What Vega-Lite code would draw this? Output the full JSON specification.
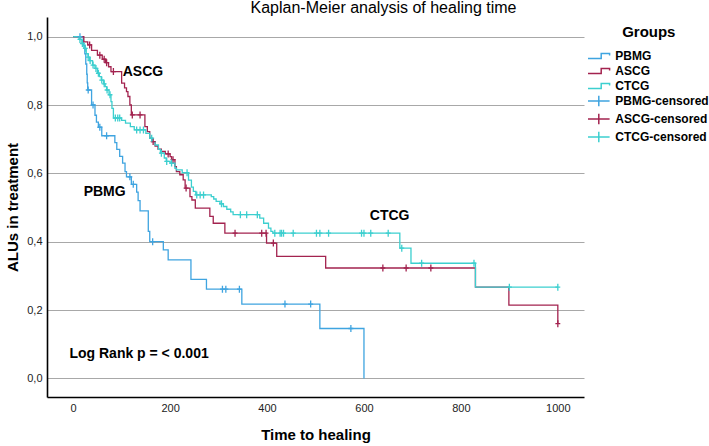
{
  "$schema": "https://vega.github.io/schema/vega-lite/v6.json",
  "width": 537,
  "height": 380,
  "autosize": {"type": "none"},
  "padding": {"left": 47, "top": 17, "right": 125, "bottom": 49},
  "background": "white",
  "title": {
    "text": "Kaplan-Meier analysis of healing time",
    "anchor": "middle",
    "dx": 68,
    "offset": 1,
    "fontSize": 16,
    "fontWeight": "normal",
    "font": "Liberation Sans",
    "color": "#000"
  },
  "datasets": {
    "curves": [
      {"label": "PBMG", "t": 0, "s": 1}, {"label": "PBMG", "t": 21, "s": 0.975}, {"label": "PBMG", "t": 24, "s": 0.95},
      {"label": "PBMG", "t": 26, "s": 0.92}, {"label": "PBMG", "t": 28, "s": 0.89}, {"label": "PBMG", "t": 29, "s": 0.865},
      {"label": "PBMG", "t": 30, "s": 0.844}, {"label": "PBMG", "t": 38, "s": 0.8}, {"label": "PBMG", "t": 45, "s": 0.77},
      {"label": "PBMG", "t": 48, "s": 0.75}, {"label": "PBMG", "t": 52, "s": 0.735}, {"label": "PBMG", "t": 59, "s": 0.71},
      {"label": "PBMG", "t": 86, "s": 0.69}, {"label": "PBMG", "t": 90, "s": 0.67}, {"label": "PBMG", "t": 96, "s": 0.65},
      {"label": "PBMG", "t": 102, "s": 0.63}, {"label": "PBMG", "t": 107, "s": 0.605}, {"label": "PBMG", "t": 110, "s": 0.59},
      {"label": "PBMG", "t": 120, "s": 0.568}, {"label": "PBMG", "t": 131, "s": 0.545}, {"label": "PBMG", "t": 134, "s": 0.52},
      {"label": "PBMG", "t": 138, "s": 0.49}, {"label": "PBMG", "t": 155, "s": 0.43}, {"label": "PBMG", "t": 158, "s": 0.4},
      {"label": "PBMG", "t": 186, "s": 0.376}, {"label": "PBMG", "t": 196, "s": 0.347}, {"label": "PBMG", "t": 243, "s": 0.29},
      {"label": "PBMG", "t": 275, "s": 0.261}, {"label": "PBMG", "t": 348, "s": 0.2175}, {"label": "PBMG", "t": 509, "s": 0.146},
      {"label": "PBMG", "t": 600, "s": 0},

      {"label": "ASCG", "t": 0, "s": 1}, {"label": "ASCG", "t": 22, "s": 0.985}, {"label": "ASCG", "t": 30, "s": 0.976},
      {"label": "ASCG", "t": 38, "s": 0.96}, {"label": "ASCG", "t": 50, "s": 0.946}, {"label": "ASCG", "t": 60, "s": 0.934},
      {"label": "ASCG", "t": 67, "s": 0.924}, {"label": "ASCG", "t": 73, "s": 0.912}, {"label": "ASCG", "t": 78, "s": 0.898},
      {"label": "ASCG", "t": 100, "s": 0.864}, {"label": "ASCG", "t": 106, "s": 0.85}, {"label": "ASCG", "t": 110, "s": 0.839},
      {"label": "ASCG", "t": 113, "s": 0.825}, {"label": "ASCG", "t": 117, "s": 0.8}, {"label": "ASCG", "t": 120, "s": 0.771},
      {"label": "ASCG", "t": 148, "s": 0.737}, {"label": "ASCG", "t": 153, "s": 0.722}, {"label": "ASCG", "t": 158, "s": 0.703},
      {"label": "ASCG", "t": 162, "s": 0.693}, {"label": "ASCG", "t": 169, "s": 0.68}, {"label": "ASCG", "t": 175, "s": 0.671},
      {"label": "ASCG", "t": 182, "s": 0.664}, {"label": "ASCG", "t": 190, "s": 0.657}, {"label": "ASCG", "t": 200, "s": 0.649},
      {"label": "ASCG", "t": 203, "s": 0.64}, {"label": "ASCG", "t": 210, "s": 0.62}, {"label": "ASCG", "t": 213, "s": 0.605},
      {"label": "ASCG", "t": 220, "s": 0.596}, {"label": "ASCG", "t": 227, "s": 0.581}, {"label": "ASCG", "t": 231, "s": 0.557},
      {"label": "ASCG", "t": 241, "s": 0.532}, {"label": "ASCG", "t": 245, "s": 0.522}, {"label": "ASCG", "t": 252, "s": 0.498},
      {"label": "ASCG", "t": 282, "s": 0.474}, {"label": "ASCG", "t": 289, "s": 0.454}, {"label": "ASCG", "t": 313, "s": 0.425},
      {"label": "ASCG", "t": 399, "s": 0.396}, {"label": "ASCG", "t": 420, "s": 0.357}, {"label": "ASCG", "t": 521, "s": 0.323},
      {"label": "ASCG", "t": 830, "s": 0.267}, {"label": "ASCG", "t": 899, "s": 0.2146}, {"label": "ASCG", "t": 1000, "s": 0.16},

      {"label": "CTCG", "t": 0, "s": 1}, {"label": "CTCG", "t": 12, "s": 0.992}, {"label": "CTCG", "t": 18, "s": 0.98},
      {"label": "CTCG", "t": 22, "s": 0.966}, {"label": "CTCG", "t": 27, "s": 0.95}, {"label": "CTCG", "t": 31, "s": 0.94},
      {"label": "CTCG", "t": 34, "s": 0.93}, {"label": "CTCG", "t": 40, "s": 0.917}, {"label": "CTCG", "t": 45, "s": 0.907},
      {"label": "CTCG", "t": 50, "s": 0.893}, {"label": "CTCG", "t": 54, "s": 0.883}, {"label": "CTCG", "t": 58, "s": 0.873},
      {"label": "CTCG", "t": 63, "s": 0.862}, {"label": "CTCG", "t": 66, "s": 0.854}, {"label": "CTCG", "t": 69, "s": 0.844},
      {"label": "CTCG", "t": 74, "s": 0.83}, {"label": "CTCG", "t": 78, "s": 0.81}, {"label": "CTCG", "t": 80, "s": 0.79},
      {"label": "CTCG", "t": 83, "s": 0.762}, {"label": "CTCG", "t": 100, "s": 0.755}, {"label": "CTCG", "t": 108, "s": 0.747},
      {"label": "CTCG", "t": 118, "s": 0.737}, {"label": "CTCG", "t": 126, "s": 0.727}, {"label": "CTCG", "t": 150, "s": 0.717},
      {"label": "CTCG", "t": 158, "s": 0.703}, {"label": "CTCG", "t": 164, "s": 0.693}, {"label": "CTCG", "t": 169, "s": 0.683},
      {"label": "CTCG", "t": 176, "s": 0.67}, {"label": "CTCG", "t": 180, "s": 0.659}, {"label": "CTCG", "t": 188, "s": 0.645},
      {"label": "CTCG", "t": 192, "s": 0.635}, {"label": "CTCG", "t": 200, "s": 0.63}, {"label": "CTCG", "t": 210, "s": 0.615},
      {"label": "CTCG", "t": 213, "s": 0.61}, {"label": "CTCG", "t": 225, "s": 0.602}, {"label": "CTCG", "t": 238, "s": 0.58},
      {"label": "CTCG", "t": 244, "s": 0.56}, {"label": "CTCG", "t": 248, "s": 0.547}, {"label": "CTCG", "t": 253, "s": 0.537},
      {"label": "CTCG", "t": 285, "s": 0.532}, {"label": "CTCG", "t": 290, "s": 0.525}, {"label": "CTCG", "t": 295, "s": 0.518},
      {"label": "CTCG", "t": 303, "s": 0.511}, {"label": "CTCG", "t": 310, "s": 0.503}, {"label": "CTCG", "t": 317, "s": 0.495},
      {"label": "CTCG", "t": 325, "s": 0.487}, {"label": "CTCG", "t": 330, "s": 0.479}, {"label": "CTCG", "t": 385, "s": 0.469},
      {"label": "CTCG", "t": 393, "s": 0.454}, {"label": "CTCG", "t": 403, "s": 0.44}, {"label": "CTCG", "t": 408, "s": 0.43},
      {"label": "CTCG", "t": 412, "s": 0.425}, {"label": "CTCG", "t": 674, "s": 0.381}, {"label": "CTCG", "t": 697, "s": 0.337},
      {"label": "CTCG", "t": 830, "s": 0.267}, {"label": "CTCG", "t": 1000, "s": 0.267}
    ],
    "censored": [
      {"label": "PBMG-censored", "t": 14, "s": 1}, {"label": "PBMG-censored", "t": 31, "s": 0.844},
      {"label": "PBMG-censored", "t": 41, "s": 0.8}, {"label": "PBMG-censored", "t": 55, "s": 0.735},
      {"label": "PBMG-censored", "t": 69, "s": 0.71}, {"label": "PBMG-censored", "t": 117, "s": 0.59},
      {"label": "PBMG-censored", "t": 124, "s": 0.568}, {"label": "PBMG-censored", "t": 164, "s": 0.4},
      {"label": "PBMG-censored", "t": 308, "s": 0.261}, {"label": "PBMG-censored", "t": 315, "s": 0.261},
      {"label": "PBMG-censored", "t": 343, "s": 0.261}, {"label": "PBMG-censored", "t": 437, "s": 0.2175},
      {"label": "PBMG-censored", "t": 490, "s": 0.2175}, {"label": "PBMG-censored", "t": 573, "s": 0.146},

      {"label": "ASCG-censored", "t": 34, "s": 0.976}, {"label": "ASCG-censored", "t": 55, "s": 0.946},
      {"label": "ASCG-censored", "t": 64, "s": 0.934}, {"label": "ASCG-censored", "t": 69, "s": 0.924},
      {"label": "ASCG-censored", "t": 83, "s": 0.898}, {"label": "ASCG-censored", "t": 122, "s": 0.771},
      {"label": "ASCG-censored", "t": 138, "s": 0.771}, {"label": "ASCG-censored", "t": 165, "s": 0.693},
      {"label": "ASCG-censored", "t": 196, "s": 0.657}, {"label": "ASCG-censored", "t": 206, "s": 0.64},
      {"label": "ASCG-censored", "t": 233, "s": 0.557}, {"label": "ASCG-censored", "t": 334, "s": 0.425},
      {"label": "ASCG-censored", "t": 389, "s": 0.425}, {"label": "ASCG-censored", "t": 398, "s": 0.425},
      {"label": "ASCG-censored", "t": 413, "s": 0.396}, {"label": "ASCG-censored", "t": 639, "s": 0.323},
      {"label": "ASCG-censored", "t": 687, "s": 0.323}, {"label": "ASCG-censored", "t": 738, "s": 0.323},
      {"label": "ASCG-censored", "t": 1000, "s": 0.16},

      {"label": "CTCG-censored", "t": 14, "s": 0.992}, {"label": "CTCG-censored", "t": 19, "s": 0.98},
      {"label": "CTCG-censored", "t": 25, "s": 0.966}, {"label": "CTCG-censored", "t": 31, "s": 0.94},
      {"label": "CTCG-censored", "t": 35, "s": 0.93}, {"label": "CTCG-censored", "t": 41, "s": 0.917},
      {"label": "CTCG-censored", "t": 47, "s": 0.907}, {"label": "CTCG-censored", "t": 52, "s": 0.893},
      {"label": "CTCG-censored", "t": 59, "s": 0.873}, {"label": "CTCG-censored", "t": 64, "s": 0.862},
      {"label": "CTCG-censored", "t": 70, "s": 0.844}, {"label": "CTCG-censored", "t": 76, "s": 0.83},
      {"label": "CTCG-censored", "t": 87, "s": 0.762}, {"label": "CTCG-censored", "t": 92, "s": 0.762},
      {"label": "CTCG-censored", "t": 96, "s": 0.762}, {"label": "CTCG-censored", "t": 131, "s": 0.727},
      {"label": "CTCG-censored", "t": 138, "s": 0.727}, {"label": "CTCG-censored", "t": 145, "s": 0.727},
      {"label": "CTCG-censored", "t": 162, "s": 0.703}, {"label": "CTCG-censored", "t": 182, "s": 0.659},
      {"label": "CTCG-censored", "t": 193, "s": 0.635}, {"label": "CTCG-censored", "t": 203, "s": 0.63},
      {"label": "CTCG-censored", "t": 235, "s": 0.602}, {"label": "CTCG-censored", "t": 255, "s": 0.537},
      {"label": "CTCG-censored", "t": 262, "s": 0.537}, {"label": "CTCG-censored", "t": 269, "s": 0.537},
      {"label": "CTCG-censored", "t": 306, "s": 0.511}, {"label": "CTCG-censored", "t": 345, "s": 0.479},
      {"label": "CTCG-censored", "t": 358, "s": 0.479}, {"label": "CTCG-censored", "t": 380, "s": 0.479},
      {"label": "CTCG-censored", "t": 416, "s": 0.425}, {"label": "CTCG-censored", "t": 427, "s": 0.425},
      {"label": "CTCG-censored", "t": 430, "s": 0.425}, {"label": "CTCG-censored", "t": 434, "s": 0.425},
      {"label": "CTCG-censored", "t": 454, "s": 0.425}, {"label": "CTCG-censored", "t": 502, "s": 0.425},
      {"label": "CTCG-censored", "t": 509, "s": 0.425}, {"label": "CTCG-censored", "t": 527, "s": 0.425},
      {"label": "CTCG-censored", "t": 595, "s": 0.425}, {"label": "CTCG-censored", "t": 600, "s": 0.425},
      {"label": "CTCG-censored", "t": 614, "s": 0.425}, {"label": "CTCG-censored", "t": 650, "s": 0.425},
      {"label": "CTCG-censored", "t": 678, "s": 0.381}, {"label": "CTCG-censored", "t": 719, "s": 0.337},
      {"label": "CTCG-censored", "t": 827, "s": 0.337}, {"label": "CTCG-censored", "t": 900, "s": 0.267},
      {"label": "CTCG-censored", "t": 1000, "s": 0.267}
    ],
    "notes": [
      {"t": 144, "s": 0.897, "text": "ASCG"},
      {"t": 65, "s": 0.544, "text": "PBMG"},
      {"t": 653, "s": 0.476, "text": "CTCG"},
      {"t": 136, "s": 0.0722, "text": "Log Rank p = < 0.001"}
    ],
    "keys": [
      {"label": "PBMG"}, {"label": "ASCG"}, {"label": "CTCG"},
      {"label": "PBMG-censored"}, {"label": "ASCG-censored"}, {"label": "CTCG-censored"}
    ]
  },
  "encoding": {
    "x": {
      "field": "t",
      "type": "quantitative",
      "scale": {"domain": [-54, 1054], "nice": false, "zero": false},
      "axis": {
        "title": "Time to healing",
        "values": [0, 200, 400, 600, 800, 1000],
        "format": "d",
        "grid": false,
        "ticks": false,
        "tickSize": 0,
        "labelPadding": 5,
        "titlePadding": 14
      }
    },
    "y": {
      "field": "s",
      "type": "quantitative",
      "scale": {"domain": [-0.0545, 1.0576], "nice": false, "zero": false},
      "axis": {
        "title": "ALUs in treatment",
        "values": [0, 0.2, 0.4, 0.6, 0.8, 1],
        "format": ".1f",
        "labelExpr": "replace(datum.label, '.', ',')",
        "grid": true,
        "ticks": false,
        "tickSize": 0,
        "labelPadding": 5,
        "titlePadding": 6
      }
    }
  },
  "resolve": {
    "scale": {"color": "independent", "shape": "independent"},
    "legend": {"color": "independent", "shape": "independent"}
  },
  "layer": [
    {
      "data": {"name": "curves"},
      "mark": {"type": "line", "interpolate": "step-after", "strokeWidth": 1.3},
      "encoding": {
        "color": {
          "field": "label",
          "type": "nominal",
          "scale": {
            "domain": ["PBMG", "ASCG", "CTCG"],
            "range": ["#3fa4e0", "#a3234f", "#3ccfcf"]
          },
          "legend": null
        }
      }
    },
    {
      "data": {"name": "censored"},
      "mark": {
        "type": "point",
        "shape": "M-0.7,0H0.7M0,-1V1",
        "filled": false,
        "size": 49,
        "strokeWidth": 1.3,
        "opacity": 1
      },
      "encoding": {
        "color": {
          "field": "label",
          "type": "nominal",
          "scale": {
            "domain": ["PBMG-censored", "ASCG-censored", "CTCG-censored"],
            "range": ["#3fa4e0", "#a3234f", "#3ccfcf"]
          },
          "legend": null
        }
      }
    },
    {
      "data": {"name": "notes"},
      "mark": {
        "type": "text",
        "font": "Liberation Sans",
        "fontSize": 14,
        "fontWeight": "bold",
        "color": "#000",
        "align": "center",
        "baseline": "middle"
      },
      "encoding": {"text": {"field": "text"}}
    },
    {
      "data": {"name": "keys"},
      "mark": {"type": "point", "filled": false, "opacity": 0, "size": 256, "strokeWidth": 1.5},
      "encoding": {
        "x": {"datum": 500},
        "y": {"datum": 0.5},
        "color": {
          "field": "label",
          "type": "nominal",
          "scale": {
            "domain": ["PBMG", "ASCG", "CTCG", "PBMG-censored", "ASCG-censored", "CTCG-censored"],
            "range": ["#3fa4e0", "#a3234f", "#3ccfcf", "#3fa4e0", "#a3234f", "#3ccfcf"]
          },
          "legend": {"title": "Groups"}
        },
        "shape": {
          "field": "label",
          "type": "nominal",
          "scale": {
            "domain": ["PBMG", "ASCG", "CTCG", "PBMG-censored", "ASCG-censored", "CTCG-censored"],
            "range": [
              "M-1.35,0.3H0.3V-0.3H1.35V-0.05",
              "M-1.35,0.3H0.3V-0.3H1.35V-0.05",
              "M-1.35,0.3H0.3V-0.3H1.35V-0.05",
              "M-1.35,0H1.35M0,-0.65V0.65",
              "M-1.35,0H1.35M0,-0.65V0.65",
              "M-1.35,0H1.35M0,-0.65V0.65"
            ]
          },
          "legend": {"title": "Groups"}
        }
      }
    }
  ],
  "config": {
    "font": "Liberation Sans",
    "view": {"stroke": null},
    "axis": {
      "domainColor": "#000",
      "domainWidth": 1.6,
      "gridColor": "#a8a8a8",
      "gridWidth": 1,
      "labelFont": "Liberation Sans",
      "labelFontSize": 11,
      "labelColor": "#222",
      "titleFont": "Liberation Sans",
      "titleFontSize": 15,
      "titleFontWeight": "bold",
      "titleColor": "#000"
    },
    "legend": {
      "orient": "none",
      "legendX": 542.8,
      "legendY": 7.5,
      "padding": 0,
      "titleAnchor": "middle",
      "titleFont": "Liberation Sans",
      "titleFontSize": 15,
      "titleFontWeight": "bold",
      "titleColor": "#000",
      "titlePadding": 7.5,
      "labelFont": "Liberation Sans",
      "labelFontSize": 12,
      "labelFontWeight": "bold",
      "labelColor": "#000",
      "labelOffset": 7.5,
      "rowPadding": 0,
      "symbolSize": 256,
      "symbolStrokeWidth": 1.5,
      "symbolOpacity": 1,
      "symbolFillColor": "transparent"
    }
  }
}
